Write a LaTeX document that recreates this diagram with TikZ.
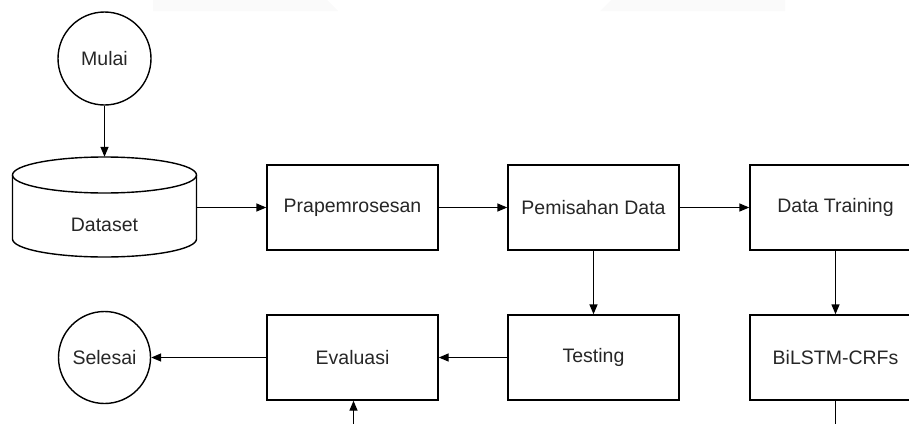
\documentclass[tikz,border=0pt]{standalone}
\usepackage{fontspec}
\setmainfont{Liberation Sans}
\usetikzlibrary{arrows.meta}

\tikzset{
  lbl/.style={font=\fontsize{19.5}{23}\selectfont, text=black!85},
  procbox/.style={lbl, draw, line width=1.4pt, minimum width=171pt, minimum height=85pt, inner sep=0pt},
  terminal/.style={lbl, draw, circle, line width=1.4pt, minimum size=92pt, inner sep=0pt},
  flow/.style={line width=1.4pt, -{Triangle[length=10pt, width=8pt]}}
}

\begin{document}
\begin{tikzpicture}[x=1pt, y=-1pt]
        \useasboundingbox (0,0) rectangle (909,423);
        \clip (0,0) rectangle (909,423);

        % faint marks at the top edge
        \fill[black!2] (153,0) -- (327,0) -- (338,11) -- (153,11) -- cycle;
        \fill[black!2] (611,0) -- (785,0) -- (785,11) -- (600,11) -- cycle;

        % Start and dataset
        \node[terminal, minimum size=93pt] (mulai) at (104.5, 58.5) {Mulai};

        \node[inner sep=0pt, minimum width=184pt, minimum height=101pt] (dataset) at (104.5, 207.5) {};
        \draw[line width=1.4pt] (12.5,175) -- (12.5,239) arc[start angle=180, end angle=0, x radius=92, y radius=18] -- (196.5,175);
        \draw[line width=1.4pt] (104.5,175) ellipse[x radius=92, y radius=18];
        \node[lbl] (datasetlbl) at (104.5, 225) {Dataset};

        % Row 1
        \node[procbox] (prapro) at (352.5, 207.5) {Prapemrosesan};
        \node[procbox] (pisah) at (593.5, 207.5) {Pemisahan Data};
        \node[procbox] (train) at (835.5, 207.5) {Data Training};

        % Row 2
        \node[terminal] (selesai) at (104.5, 357.5) {Selesai};
        \node[procbox] (eval) at (352.5, 357.5) {Evaluasi};
        \node[procbox] (testing) at (593.5, 357.5) {Testing};
        \node[procbox] (bilstm) at (835.5, 357.5) {BiLSTM-CRFs};

        % loose ends below the picture
        \coordinate (evalin) at (353.5, 430);
        \coordinate (bilstmout) at (835.5, 430);

        % Connectors
        \draw[flow] (mulai) -- (dataset);
        \draw[flow] (dataset) -- (prapro);
        \draw[flow] (prapro) -- (pisah);
        \draw[flow] (pisah) -- (train);
        \draw[flow] (pisah) -- (testing);
        \draw[flow] (train) -- (bilstm);
        \draw[flow] (testing) -- (eval);
        \draw[flow] (eval) -- (selesai);
        \draw[flow] (evalin) -- (eval.south -| evalin);
        \draw[line width=1.4pt] (bilstm) -- (bilstmout);
    \end{tikzpicture}
\end{document}
